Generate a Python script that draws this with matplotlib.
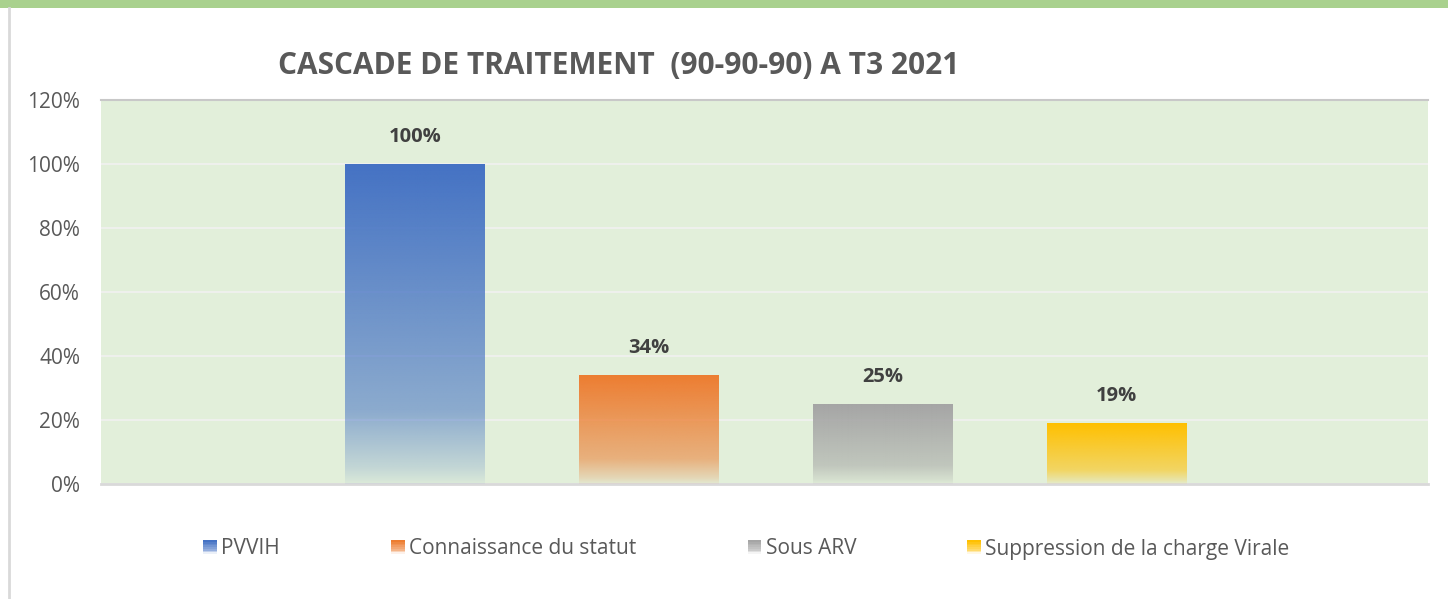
import numpy as np
import matplotlib
matplotlib.use("Agg")
import matplotlib.pyplot as plt
from matplotlib.patches import Rectangle
from matplotlib.legend_handler import HandlerBase
from matplotlib.colors import to_rgb

# data
series = ["PVVIH", "Connaissance du statut", "Sous ARV", "Suppression de la charge Virale"]
values = [100, 34, 25, 19]
colors = ["#4472C4", "#ED7D31", "#A5A5A5", "#FFC000"]
yticks = [0, 20, 40, 60, 80, 100, 120]

bg = "#E2EFDA"
text_grey = "#595959"

plt.rcParams['font.family'] = ['Open Sans', 'DejaVu Sans']


def gradient_rgba(color, n=200):
    # top solid, lighter down to ~23% of height, then fading out at the bottom
    t = np.linspace(0, 1, n)  # 0 = bottom, 1 = top
    alpha = np.interp(t, [0, 0.05, 0.23, 1.0], [0.05, 0.2, 0.55, 1.0])
    rgb = np.array(to_rgb(color))
    img = np.zeros((n, 1, 4))
    img[:, 0, :3] = rgb
    img[:, 0, 3] = alpha
    return img


class GradientHandler(HandlerBase):
    def create_artists(self, legend, orig_handle, xdescent, ydescent,
                       width, height, fontsize, trans):
        col = orig_handle.get_facecolor()
        arts = []
        n = 8
        size = height * 0.95
        x0 = xdescent + width - size
        for i in range(n):
            a = np.interp(i / (n - 1), [0, 0.3, 1], [0.1, 0.6, 1.0])
            r = Rectangle((x0, -ydescent + size * i / n - (size - height) / 2), size, size / n,
                          facecolor=col[:3], alpha=a, edgecolor='none', transform=trans)
            arts.append(r)
        return arts


fig = plt.figure(figsize=(14.48, 5.99), dpi=100)
ax = fig.add_axes([0.0698, 0.192, 0.9164, 0.641])
ax.set_facecolor(bg)

x = np.arange(len(series))
width = 0.594
for xi, v, c in zip(x, values, colors):
    ax.imshow(gradient_rgba(c), extent=(xi - width / 2, xi + width / 2, 0, v),
              origin='lower', aspect='auto', interpolation='bilinear', zorder=3)
    ax.annotate(f"{v}%", (xi, v), xytext=(0, 27), textcoords='offset pixels',
                ha='center', va='center', fontsize=14.5, fontweight='bold', color="#404040")

ax.set_xlim(-1.34, 4.33)
ax.set_ylim(0, 120)
ax.set_yticks(yticks)
ax.set_yticklabels([f"{t}%" for t in yticks], fontsize=15, color=text_grey)
ax.set_xticks([])
ax.tick_params(axis='y', length=0, pad=15)
ax.yaxis.grid(True, color="#EEF0EC", linewidth=1.5, zorder=1)
ax.set_axisbelow(True)
for s in ["left", "right"]:
    ax.spines[s].set_visible(False)
ax.spines["top"].set_color("#C8C8C8")
ax.spines["top"].set_linewidth(1.5)
ax.spines["bottom"].set_color("#D9D9D9")
ax.spines["bottom"].set_linewidth(2)

fig.text(619 / 1448, 1 - 66 / 599, "CASCADE DE TRAITEMENT  (90-90-90) A T3 2021",
         ha='center', va='center', fontsize=21.5, fontweight='bold', color=text_grey)

handles = [Rectangle((0, 0), 1, 1, facecolor=c) for c in colors]
fig.legend(handles, series, loc='center', bbox_to_anchor=(746 / 1448, 1 - 549 / 599),
           ncol=4, frameon=False, fontsize=15, labelcolor=text_grey,
           handler_map={Rectangle: GradientHandler()}, handlelength=0.7,
           handletextpad=0.2, columnspacing=5.3)

# frame decorations
fig.add_artist(Rectangle((0, 1 - 8 / 599), 1, 8 / 599, transform=fig.transFigure,
                         facecolor="#A9D18E", edgecolor='none'))
fig.add_artist(plt.Line2D([9 / 1448, 9 / 1448], [0, 1 - 8 / 599], transform=fig.transFigure,
                          color="#D9D9D9", linewidth=2))

fig.savefig("out.png", dpi=100)
